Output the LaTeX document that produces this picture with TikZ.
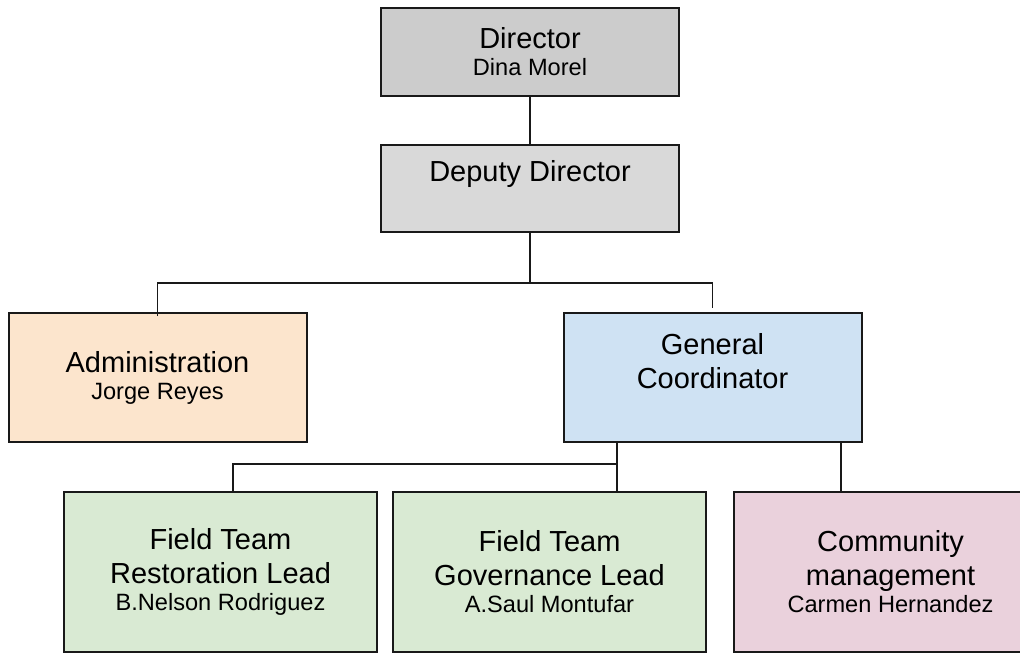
\documentclass[tikz,border=0pt]{standalone}
\usepackage{fontspec}
\setmainfont{Liberation Sans}
\usetikzlibrary{positioning, calc}
\definecolor{dirgray}{HTML}{CCCCCC}
\definecolor{depgray}{HTML}{D9D9D9}
\definecolor{admpeach}{HTML}{FCE5CD}
\definecolor{coordblue}{HTML}{CFE2F3}
\definecolor{fieldgreen}{HTML}{D9EAD3}
\definecolor{commpink}{HTML}{EAD1DC}

\tikzset{
  unit/.style={draw=black!90, line width=1pt, rectangle, align=center,
    minimum width=149pt, minimum height=#1, inner sep=0pt},
  unit/.default=64.5pt,
  role/.style={font=\fontsize{14.5}{17}\selectfont},
  link/.style={draw=black!90, line width=0.9pt}
}
\newcommand{\who}[1]{\\[-3.5pt]{\fontsize{11.8}{14}\selectfont #1}}

\begin{document}
\begin{tikzpicture}[x=0.5pt, y=-0.5pt]
  \useasboundingbox (0,0) rectangle (1020,653);
  \clip (0,0) rectangle (1020,653);

  % top of the chart
  \node[unit=44pt, fill=dirgray, role] (dir) at (530,52)
    {Director\who{Dina Morel}};
  \node[unit=43.5pt, fill=depgray] (dep) at (530,188.5) {};
  \node[role] (deptxt) at (530,174) {Deputy Director};

  % second row
  \node[unit, fill=admpeach, role] (adm) at (157.5,377.5)
    {Administration\who{Jorge Reyes}};
  \node[unit, fill=coordblue] (gen) at (712.5,377.5) {};
  \node[role, align=center] (gentxt) at (712.5,361.5) {General\\Coordinator};

  % field teams
  \node[unit=80pt, minimum width=156.5pt, fill=fieldgreen, role] (rest) at (220.5,571.5)
    {Field Team\\Restoration Lead\who{B.Nelson Rodriguez}};
  \node[unit=80pt, minimum width=156.5pt, fill=fieldgreen, role] (gov) at (549.5,571.5)
    {Field Team\\Governance Lead\who{A.Saul Montufar}};
  \node[unit=80pt, minimum width=156.5pt, fill=commpink, role] (comm) at (890.5,571.5)
    {Community\\management\who{Carmen Hernandez}};

  % reporting lines
  \draw[link] (dir) -- (dep);
  \draw[link] (dep.south) -- ++(0,50) coordinate (bus1);
  \draw[link] ([yshift=-2pt]adm.north) -- (adm.north |- bus1) -- (bus1)
    -- (gen.north |- bus1) -- ++(0,25);

  \coordinate (fork) at (617,442);
  \coordinate (restin) at (233,491);
  \coordinate (commin) at (841,442);
  \draw[link] (fork) -- ++(0,22) coordinate (bus2);
  \draw[link] (gov.north -| fork) -- (bus2) -- (restin |- bus2) -- (restin);
  \draw[link] (gen.south -| commin) -- (comm.north -| commin);
\end{tikzpicture}
\end{document}
